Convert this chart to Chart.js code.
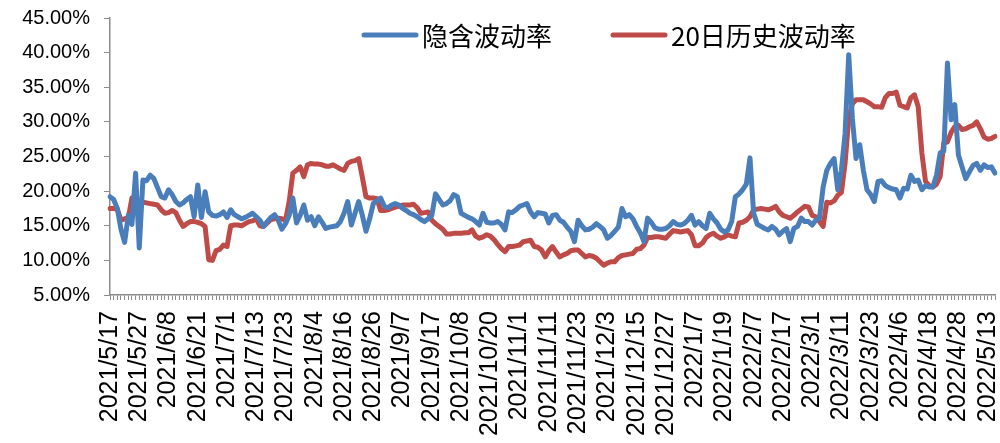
<!DOCTYPE html>
<html>
<head>
<meta charset="utf-8">
<script src="https://cdn.jsdelivr.net/npm/chart.js"></script>
<style>
  html, body { margin: 0; padding: 0; background: #ffffff; overflow: hidden; }
  #wrap { width: 1000px; height: 443px; overflow: hidden; }
  canvas { display: block; }
</style>
</head>
<body>
<div id="wrap"><canvas id="c" width="1000" height="443"></canvas></div>
<script>
// Trading days (month -> days)
const tradingMonths = [
  ["2021/5",  [17,18,19,20,21,24,25,26,27,28,31]],
  ["2021/6",  [1,2,3,4,7,8,9,10,11,15,16,17,18,21,22,23,24,25,28,29,30]],
  ["2021/7",  [1,2,5,6,7,8,9,12,13,14,15,16,19,20,21,22,23,26,27,28,29,30]],
  ["2021/8",  [2,3,4,5,6,9,10,11,12,13,16,17,18,19,20,23,24,25,26,27,30,31]],
  ["2021/9",  [1,2,3,6,7,8,9,10,13,14,15,16,17,22,23,24,27,28,29,30]],
  ["2021/10", [8,11,12,13,14,15,18,19,20,21,22,25,26,27,28,29]],
  ["2021/11", [1,2,3,4,5,8,9,10,11,12,15,16,17,18,19,22,23,24,25,26,29,30]],
  ["2021/12", [1,2,3,6,7,8,9,10,13,14,15,16,17,20,21,22,23,24,27,28,29,30,31]],
  ["2022/1",  [4,5,6,7,10,11,12,13,14,17,18,19,20,21,24,25,26,27,28]],
  ["2022/2",  [7,8,9,10,11,14,15,16,17,18,21,22,23,24,25,28]],
  ["2022/3",  [1,2,3,4,7,8,9,10,11,14,15,16,17,18,21,22,23,24,25,28,29,30,31]],
  ["2022/4",  [1,6,7,8,11,12,13,14,15,18,19,20,21,22,25,26,27,28,29]],
  ["2022/5",  [5,6,9,10,11,12,13,16,17]]
];
const dates = tradingMonths.flatMap(([m, days]) => days.map(d => m + "/" + d));
const labelStep = 8;

const seriesNames = ["隐含波动率", "20日历史波动率"];

// 隐含波动率 (%)
const impliedVol = [
  19.2,18.8,17.5,14.5,12.6,16.5,15.2,22.6,11.8,21.6,
  21.5,22.3,21.8,20.5,19.2,19.0,20.2,19.5,18.5,18.0,
  18.3,18.8,19.2,16.3,20.9,16.2,19.9,17.0,16.5,16.4,
  16.6,17.0,16.2,17.3,16.6,16.3,16.0,16.2,16.5,16.8,
  16.3,15.8,14.9,15.6,16.2,16.6,15.8,14.5,15.3,16.5,
  19.0,15.4,16.5,18.0,15.8,16.3,15.0,16.3,15.5,14.6,
  14.8,14.9,15.0,15.6,16.8,18.5,15.1,16.8,18.5,16.5,
  14.2,16.0,18.2,18.6,19.0,17.8,17.6,18.0,18.2,18.0,
  17.5,17.2,16.8,16.6,16.3,15.9,15.6,16.0,16.5,19.6,
  18.8,18.0,18.2,18.6,19.5,19.2,16.8,16.5,16.2,16.0,
  15.6,15.1,16.8,15.5,15.4,15.4,15.6,15.2,14.4,17.0,
  16.9,17.3,17.8,18.0,18.2,17.0,16.3,16.9,16.8,16.7,
  15.4,16.5,16.6,15.8,15.5,14.8,14.2,12.7,15.8,15.0,
  14.4,14.5,14.8,15.3,14.9,14.4,13.2,13.6,14.2,14.8,
  17.5,16.3,16.6,16.0,14.9,14.0,12.7,16.1,15.5,14.7,
  14.5,14.5,14.6,15.0,15.6,15.2,15.1,15.3,15.8,16.5,
  15.1,15.6,15.0,14.6,16.8,16.0,15.4,14.5,14.1,14.4,
  15.6,19.2,19.6,20.2,21.0,24.8,16.8,15.2,14.9,14.6,
  14.4,14.9,14.5,13.7,14.2,14.6,12.7,14.6,14.9,16.1,
  15.6,15.6,15.1,15.8,16.1,20.6,23.0,24.0,24.7,20.2,
  23.0,28.3,39.7,30.5,24.7,26.7,23.0,20.2,19.5,18.5,
  21.4,21.5,20.8,20.5,20.3,20.2,19.0,20.4,20.3,22.3,
  21.4,21.6,20.2,20.8,20.6,20.6,22.3,25.5,25.8,38.5,
  30.3,32.5,25.2,23.5,21.8,22.8,23.7,24.0,23.0,23.8,
  23.4,23.5,22.6
];

// 20日历史波动率 (%)
const histVol20 = [
  17.5,17.5,17.4,15.8,16.0,16.1,19.0,18.8,18.6,18.4,
  18.3,18.2,18.1,18.0,17.3,16.8,16.9,17.2,16.9,15.8,
  14.9,15.3,15.6,15.6,15.5,15.3,14.9,10.1,10.0,11.4,
  11.6,12.2,12.0,15.0,15.1,15.1,15.0,15.3,15.6,15.7,
  16.0,15.0,14.9,15.4,15.9,16.0,16.1,16.0,15.8,18.5,
  22.6,23.0,23.5,22.1,23.8,24.0,23.9,23.9,23.8,23.6,
  23.6,23.8,23.5,23.2,23.0,24.0,24.3,24.4,24.7,22.0,
  19.2,19.0,19.0,18.9,17.2,17.2,17.3,17.5,17.7,17.8,
  18.0,18.0,18.0,18.1,17.6,16.8,16.9,17.0,15.8,15.3,
  14.9,14.5,13.8,13.8,13.9,13.9,13.9,14.0,14.0,14.4,
  13.5,13.2,13.4,13.7,13.5,13.0,12.3,11.7,11.25,12.0,
  12.0,12.1,12.2,12.7,12.8,12.9,12.0,11.9,11.5,10.5,
  11.4,12.0,11.2,10.5,10.8,11.0,11.4,11.5,11.5,11.0,
  10.5,10.7,10.6,10.3,9.8,9.3,9.6,9.8,9.8,10.4,
  10.7,10.8,10.9,11.0,11.6,11.7,12.2,13.3,13.3,13.4,
  13.4,13.3,13.2,13.8,14.3,14.2,14.1,14.2,14.3,13.7,
  12.1,12.1,12.5,13.3,13.7,13.9,13.5,13.2,13.4,13.7,
  13.5,13.4,15.4,15.5,15.8,16.3,17.3,17.4,17.5,17.4,
  17.3,17.5,17.8,17.0,16.5,16.3,16.1,16.5,17.0,17.4,
  17.8,17.7,16.5,16.3,15.6,14.9,18.4,18.3,18.6,19.4,
  19.8,24.0,30.5,32.6,33.2,33.2,33.2,32.9,32.6,32.2,
  32.2,32.1,33.5,34.1,34.1,34.3,32.4,32.2,32.0,33.5,
  33.9,32.2,25.5,21.4,20.8,20.6,21.0,22.1,27.0,27.1,
  28.5,29.3,29.5,28.9,29.0,29.3,29.5,30.0,29.0,27.8,
  27.5,27.6,27.9
];

const yMin = 5, yMax = 45, yStep = 5;
const colors = ["#4A7EBB", "#BE4B48"];
const axisColor = "#8C8C8C";

const legendPlugin = {
  id: "lineLegend",
  afterDraw(chart) {
    const ctx = chart.ctx;
    ctx.save();
    ctx.font = "26px 'Noto Sans CJK SC', 'Liberation Sans', sans-serif";
    ctx.textBaseline = "middle";
    ctx.textAlign = "left";
    let x = 362;
    const y = 35;
    chart.data.datasets.forEach((ds) => {
      ctx.strokeStyle = ds.borderColor;
      ctx.lineWidth = 5;
      ctx.lineCap = "round";
      ctx.beginPath();
      ctx.moveTo(x + 2, y);
      ctx.lineTo(x + 54, y);
      ctx.stroke();
      ctx.fillStyle = "#000000";
      ctx.fillText(ds.label, x + 60, y + 1);
      x += 60 + ctx.measureText(ds.label).width + 59;
    });
    ctx.restore();
  }
};

new Chart(document.getElementById("c"), {
  type: "line",
  data: {
    labels: dates,
    datasets: [
      { label: seriesNames[0], data: impliedVol, borderColor: colors[0], backgroundColor: colors[0] },
      { label: seriesNames[1], data: histVol20, borderColor: colors[1], backgroundColor: colors[1] }
    ]
  },
  options: {
    responsive: false,
    animation: false,
    devicePixelRatio: 1,
    layout: { padding: { top: 18, right: 5, left: 0, bottom: 0 } },
    elements: {
      line: { borderWidth: 5, tension: 0, borderJoinStyle: "round", borderCapStyle: "round" },
      point: { radius: 0, hoverRadius: 0 }
    },
    plugins: { legend: { display: false }, tooltip: { enabled: false } },
    scales: {
      x: {
        type: "category",
        offset: false,
        grid: { display: true, drawOnChartArea: false, drawTicks: true, tickLength: 5, color: axisColor, lineWidth: 1 },
        border: { display: true, color: axisColor, width: 1.5 },
        ticks: {
          autoSkip: false,
          maxRotation: 90,
          minRotation: 90,
          padding: 11,
          color: "#000000",
          font: { family: "'Liberation Sans', Arial, sans-serif", size: 25 },
          callback: (v, i) => (i % labelStep === 0 ? dates[i] : "")
        },
        afterFit: (s) => { s.height = 148; s.paddingLeft = 0; s.paddingRight = 0; }
      },
      y: {
        min: yMin, max: yMax,
        grid: { display: true, drawOnChartArea: false, drawTicks: true, tickLength: 6, color: axisColor },
        border: { display: true, color: axisColor, width: 1.5 },
        ticks: {
          stepSize: yStep,
          padding: 14,
          color: "#000000",
          font: { family: "'Liberation Sans', Arial, sans-serif", size: 20 },
          callback: (v) => v.toFixed(2) + "%"
        },
        afterFit: (s) => { s.width = 110; s.paddingTop = 0; s.paddingBottom = 0; }
      }
    }
  },
  plugins: [legendPlugin]
});
</script>
</body>
</html>
